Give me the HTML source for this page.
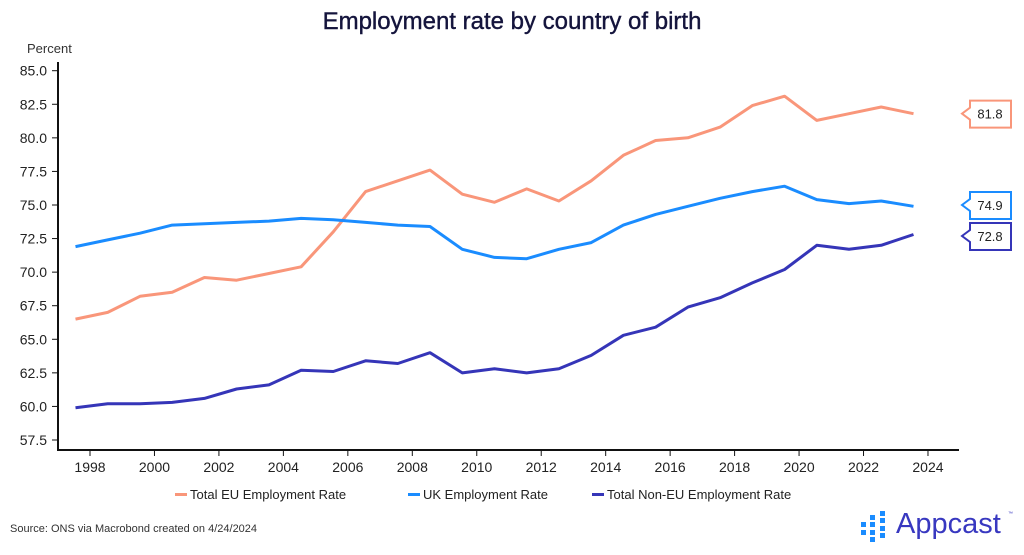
<!DOCTYPE html>
<html><head><meta charset="utf-8"><style>
body{margin:0;background:#fff;width:1024px;height:550px;overflow:hidden;font-family:"Liberation Sans",sans-serif}
</style></head><body>
<svg id="chart" width="1024" height="550" xmlns="http://www.w3.org/2000/svg" font-family="Liberation Sans, sans-serif">
<text x="512" y="29" text-anchor="middle" font-size="24" fill="#14143c" stroke="#14143c" stroke-width="0.4">Employment rate by country of birth</text>
<text x="27" y="53" font-size="13" fill="#333">Percent</text>
<g id="axes"></g>
<g id="series"></g>
<g id="labels"></g>
<g font-size="13" fill="#222">
<rect x="175" y="493" width="12" height="3" fill="#f9967a"/>
<text x="190" y="499">Total EU Employment Rate</text>
<rect x="408" y="493" width="12" height="3" fill="#1a8cff"/>
<text x="423" y="499">UK Employment Rate</text>
<rect x="592" y="493" width="12" height="3" fill="#3535b8"/>
<text x="607" y="499">Total Non-EU Employment Rate</text>
</g>
<text x="10" y="532" font-size="11" fill="#333">Source: ONS via Macrobond created on 4/24/2024</text>
<g>
<g fill="#1a8cff">
<rect x="861" y="522" width="5" height="5"/><rect x="861" y="530" width="5" height="5"/>
<rect x="870" y="515" width="5" height="5"/><rect x="870" y="522" width="5" height="5"/><rect x="870" y="530" width="5" height="5"/><rect x="870" y="537" width="5" height="5"/>
<rect x="880" y="511" width="5" height="5"/><rect x="880" y="518" width="5" height="5"/><rect x="880" y="526" width="5" height="5"/><rect x="880" y="533" width="5" height="5"/>
</g>
<text x="896" y="533" font-size="29" fill="#3838c0">Appcast</text>
<text x="1008" y="515" font-size="5" fill="#3838c0">™</text>
</g>
</svg>
<script>
const years=[1997,1998,1999,2000,2001,2002,2003,2004,2005,2006,2007,2008,2009,2010,2011,2012,2013,2014,2015,2016,2017,2018,2019,2020,2021,2022,2023];
const euValues=[66.5,67.0,68.2,68.5,69.6,69.4,69.9,70.4,73.0,76.0,76.8,77.6,75.8,75.2,76.2,75.3,76.8,78.7,79.8,80.0,80.8,82.4,83.1,81.3,81.8,82.3,81.8];
const ukValues=[71.9,72.4,72.9,73.5,73.6,73.7,73.8,74.0,73.9,73.7,73.5,73.4,71.7,71.1,71.0,71.7,72.2,73.5,74.3,74.9,75.5,76.0,76.4,75.4,75.1,75.3,74.9];
const nonEuValues=[59.9,60.2,60.2,60.3,60.6,61.3,61.6,62.7,62.6,63.4,63.2,64.0,62.5,62.8,62.5,62.8,63.8,65.3,65.9,67.4,68.1,69.2,70.2,72.0,71.7,72.0,72.8];
const yTicks=[57.5,60.0,62.5,65.0,67.5,70.0,72.5,75.0,77.5,80.0,82.5,85.0];
const xTicks=[1998,2000,2002,2004,2006,2008,2010,2012,2014,2016,2018,2020,2022,2024];
const NS="http://www.w3.org/2000/svg";
function xs(y){return 90+(y-1998)*32.23;}
function ys(v){return 70.7+(85-v)*(369.3/27.5);}
function mk(t,a,p){const e=document.createElementNS(NS,t);for(const k in a)e.setAttribute(k,a[k]);p.appendChild(e);return e;}
const axes=document.getElementById('axes');
const ax=mk('path',{d:'M58,62V450H959',fill:'none',stroke:'#111','stroke-width':2},axes);


yTicks.forEach(v=>{
 const l=mk('line',{x1:52,x2:58,y1:ys(v),y2:ys(v),stroke:'#111'},axes);
 
 
 const t=mk('text',{x:47,y:ys(v)+5,'text-anchor':'end','font-size':14,fill:'#222'},axes);
 
 
 t.textContent=v.toFixed(1);
});
xTicks.forEach(y=>{
 const l=mk('line',{x1:xs(y),x2:xs(y),y1:450,y2:456,stroke:'#111'},axes);
 
 
 const t=mk('text',{x:xs(y),y:472,'text-anchor':'middle','font-size':14,fill:'#222'},axes);
 
 
 t.textContent=y;
});
const ser=document.getElementById('series'),lab=document.getElementById('labels');
function line(vals,col,name,boxY){
 const d=vals.map((v,i)=>(i?'L':'M')+xs(years[i]+0.55).toFixed(1)+','+ys(v).toFixed(1)).join('');
 const p=mk('path',{d:d,fill:'none',stroke:col,'stroke-width':3,'stroke-linejoin':'round'},ser);
 
 
 const last=vals[vals.length-1];
 const cy=boxY==null?ys(last):boxY;
 const b=mk('path',{d:`M970,${cy-13}H1011V${cy+14}H970V${cy+6}L962,${cy}L970,${cy-6}Z`,fill:'#fff',stroke:col,'stroke-width':2},lab);
 
 
 const t=mk('text',{x:990,y:cy+5,'text-anchor':'middle','font-size':13,fill:'#222'},lab);
 
 
 t.textContent=last.toFixed(1);
}
line(euValues,'#f9967a','eu',null);
line(ukValues,'#1a8cff','uk',205);
line(nonEuValues,'#3535b8','noneu',236);
</script>
</body></html>
